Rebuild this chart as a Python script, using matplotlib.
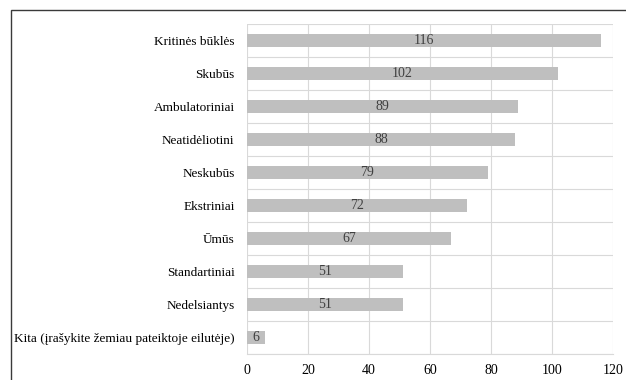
import matplotlib.pyplot as plt
from matplotlib.patches import Rectangle
from matplotlib.ticker import MultipleLocator, FixedLocator

# ── Data ──────────────────────────────────────────────────────────────────────
categories = [
    "Kritinės būklės",
    "Skubūs",
    "Ambulatoriniai",
    "Neatidėliotini",
    "Neskubūs",
    "Ekstriniai",
    "Ūmūs",
    "Standartiniai",
    "Nedelsiantys",
    "Kita (įrašykite žemiau pateiktoje eilutėje)",
]
values = [116, 102, 89, 88, 79, 72, 67, 51, 51, 6]

plt.rcParams["font.family"] = ["Liberation Serif", "DejaVu Serif"]

fig = plt.figure(figsize=(6.26, 3.80), dpi=100)
ax = fig.add_axes([247 / 626, 1 - 354 / 380, (613 - 247) / 626, (354 - 24) / 380])

# outer chart frame (cut off at right/bottom in the reference)
fig.patches.append(Rectangle((11 / 626, -0.1), 1.2, 1 - 10 / 380 + 0.1,
                             transform=fig.transFigure, fill=False,
                             edgecolor="#3a3a3a", linewidth=1.0))

y = list(range(len(categories)))[::-1]
bars = ax.barh(y, values, height=0.4, color="#bfbfbf", zorder=2)

for yy, v in zip(y, values):
    ax.text(v / 2, yy, str(v), ha="center", va="center",
            fontsize=10, color="#404040", zorder=3)

ax.set_xlim(0, 120)
ax.set_ylim(-0.5, len(categories) - 0.5)
ax.xaxis.set_major_locator(MultipleLocator(20))
ax.set_yticks(y)
ax.set_yticklabels(categories, fontsize=9.5, color="#000000")
ax.yaxis.set_minor_locator(FixedLocator([i - 0.5 for i in range(len(categories) + 1)]))

ax.grid(axis="x", which="major", color="#d9d9d9", linewidth=0.8, zorder=0)
ax.grid(axis="y", which="minor", color="#d9d9d9", linewidth=0.8, zorder=0)
ax.set_axisbelow(True)

for s in ["top", "right", "left"]:
    ax.spines[s].set_visible(False)
ax.spines["bottom"].set_color("#d9d9d9")
ax.tick_params(axis="both", which="both", length=0)
ax.tick_params(axis="y", pad=9)
ax.tick_params(axis="x", pad=7, labelsize=10)

fig.savefig("out.png", dpi=100)
